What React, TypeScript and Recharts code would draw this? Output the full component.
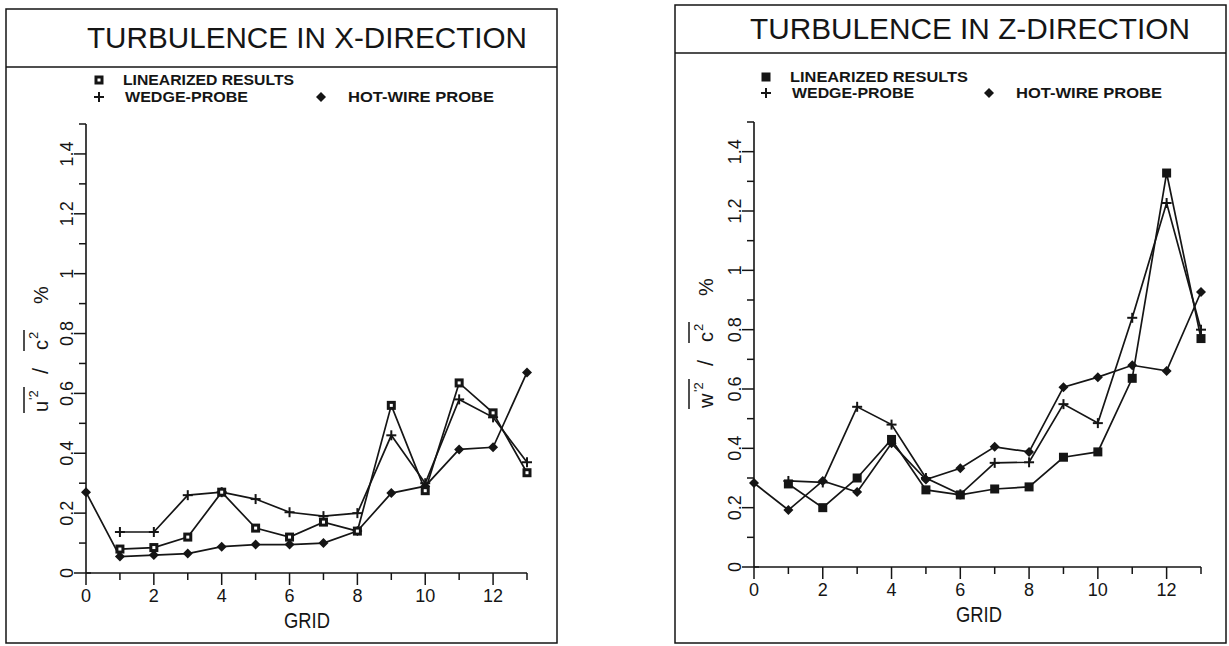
import { LineChart, Line, XAxis, YAxis } from 'recharts';

const grid = [0, 1, 2, 3, 4, 5, 6, 7, 8, 9, 10, 11, 12, 13];
const xTickLabels = ['0', '', '2', '', '4', '', '6', '', '8', '', '10', '', '12', ''];
const yTicks = [0, 0.1, 0.2, 0.3, 0.4, 0.5, 0.6, 0.7, 0.8, 0.9, 1, 1.1, 1.2, 1.3, 1.4, 1.5];
const yTickLabels = ['0', '0.2', '0.4', '0.6', '0.8', '1', '1.2', '1.4'];

// turbulence in x-direction
const xLinearized = [null, 0.08, 0.085, 0.12, 0.27, 0.15, 0.12, 0.17, 0.14, 0.56, 0.275, 0.635, 0.535, 0.335];
const xWedge = [null, 0.137, 0.137, 0.26, 0.27, 0.247, 0.203, 0.19, 0.2, 0.46, 0.3, 0.58, 0.52, 0.37];
const xHotWire = [0.27, 0.055, 0.06, 0.065, 0.088, 0.095, 0.095, 0.1, 0.14, 0.267, 0.29, 0.413, 0.42, 0.67];

// turbulence in z-direction
const zLinearized = [null, 0.28, 0.2, 0.3, 0.43, 0.26, 0.243, 0.263, 0.27, 0.37, 0.388, 0.636, 1.328, 0.77];
const zWedge = [null, 0.29, 0.285, 0.54, 0.48, 0.3, 0.245, 0.351, 0.353, 0.549, 0.485, 0.84, 1.227, 0.8];
const zHotWire = [0.283, 0.192, 0.29, 0.253, 0.417, 0.295, 0.333, 0.405, 0.388, 0.606, 0.64, 0.68, 0.661, 0.927];

const INK = '#151515';
const FONT = '"Liberation Sans", Arial, sans-serif';
const AXIS_W = 40;
const AXIS_H = 40;

const build = (lin: (number | null)[], wedge: (number | null)[], hot: (number | null)[]) =>
  grid.map((g, i) => ({ grid: g, lin: lin[i], wedge: wedge[i], hot: hot[i] }));

function Square({ cx, cy, hollow }: { cx: number; cy: number; hollow?: boolean }) {
  return (
    <g>
      <rect x={cx - 4.5} y={cy - 4.5} width={9} height={9} fill={INK} />
      {hollow && <rect x={cx - 1.5} y={cy - 1.5} width={3} height={3} fill="#fff" />}
    </g>
  );
}

function Plus({ cx, cy }: { cx: number; cy: number }) {
  return (
    <g stroke={INK} strokeWidth={2}>
      <line x1={cx - 5} x2={cx + 5} y1={cy} y2={cy} />
      <line x1={cx} x2={cx} y1={cy - 5} y2={cy + 5} />
    </g>
  );
}

function Diamond({ cx, cy }: { cx: number; cy: number }) {
  return <polygon points={`${cx},${cy - 5} ${cx + 5},${cy} ${cx},${cy + 5} ${cx - 5},${cy}`} fill={INK} />;
}

const dotFn = (kind: 'sq' | 'sqh' | 'plus' | 'dia') => (p: any) => {
  const key = `${kind}-${p.index}`;
  if (p.value == null || p.cx == null || p.cy == null) return <g key={key} />;
  if (kind === 'plus') return <Plus key={key} cx={p.cx} cy={p.cy} />;
  if (kind === 'dia') return <Diamond key={key} cx={p.cx} cy={p.cy} />;
  return <Square key={key} cx={p.cx} cy={p.cy} hollow={kind === 'sqh'} />;
};

const yTick = (axisX: number) => (p: any) => {
  const v = p.payload.value as number;
  const y = p.payload.coordinate ?? p.y;
  const tenth = Math.round(v * 10);
  const major = tenth % 2 === 0;
  return (
    <g key={`yt-${tenth}`}>
      <line x1={axisX - (major ? 12 : 7)} x2={axisX + (tenth === 0 ? 5 : 0)} y1={y} y2={y} stroke={INK} strokeWidth={1.5} />
      {major && tenth <= 14 && (
        <text
          transform={`translate(${axisX - 13},${y}) rotate(-90)`}
          textAnchor="middle"
          fontSize={18}
          fontFamily={FONT}
          fill={INK}
        >
          {yTickLabels[tenth / 2]}
        </text>
      )}
    </g>
  );
};

const xTick = (axisY: number) => (p: any) => {
  const v = p.payload.value as number;
  const x = p.payload.coordinate ?? p.x;
  const label = xTickLabels[v];
  return (
    <g key={`xt-${v}`}>
      <line x1={x} x2={x} y1={axisY} y2={axisY + (label ? 12 : 7)} stroke={INK} strokeWidth={1.5} />
      {label && (
        <text x={x} y={axisY + 29} textAnchor="middle" fontSize={18} fontFamily={FONT} fill={INK}>
          {label}
        </text>
      )}
    </g>
  );
};

interface PanelProps {
  left: number;
  width: number;
  axisX: number; // inside the panel
  axisY: number;
  top: number;
  right: number;
  data: ReturnType<typeof build>;
  hollow?: boolean;
}

function Panel({ left, width, axisX, axisY, top, right, data, hollow }: PanelProps) {
  const axisStyle = { stroke: INK, strokeWidth: 1.6 };
  const margin = { top, right, left: axisX - AXIS_W, bottom: 646 - axisY - AXIS_H };
  return (
    <div style={{ position: 'absolute', left, top: 0, width, height: 646 }}>
      <LineChart width={width} height={646} data={data} margin={margin}>
        <XAxis
          type="number"
          dataKey="grid"
          domain={[0, 13]}
          ticks={grid}
          interval={0}
          height={AXIS_H}
          tickLine={false}
          axisLine={axisStyle}
          tick={xTick(axisY)}
        />
        <YAxis
          type="number"
          domain={[0, 1.5]}
          ticks={yTicks}
          interval={0}
          width={AXIS_W}
          tickLine={false}
          axisLine={axisStyle}
          tick={yTick(axisX)}
        />
        <Line dataKey="hot" stroke={INK} strokeWidth={1.7} dot={dotFn('dia')} isAnimationActive={false} />
        <Line dataKey="wedge" stroke={INK} strokeWidth={1.7} dot={dotFn('plus')} isAnimationActive={false} />
        <Line dataKey="lin" stroke={INK} strokeWidth={1.7} dot={dotFn(hollow ? 'sqh' : 'sq')} isAnimationActive={false} />
      </LineChart>
    </div>
  );
}

function YLabel({ x, y, letter }: { x: number; y: number; letter: string }) {
  const wide = letter === 'w';
  const l0 = wide ? -66 : -62;
  const sup = wide ? l0 + 16 : l0 + 12;
  return (
    <g transform={`translate(${x},${y}) rotate(-90)`} fill={INK} fontFamily={FONT}>
      <text x={l0} y={0} fontSize={20}>{letter}</text>
      <text x={sup} y={-10} fontSize={13}>'2</text>
      <line x1={l0 - 1} x2={sup + 13} y1={-24} y2={-24} stroke={INK} strokeWidth={1.5} />
      <text x={-24} y={0} fontSize={22}>/</text>
      <text x={0} y={0} fontSize={20}>c</text>
      <text x={11} y={-10} fontSize={13}>2</text>
      <line x1={-1} x2={20} y1={-24} y2={-24} stroke={INK} strokeWidth={1.5} />
      <text x={46} y={0} fontSize={20}>%</text>
    </g>
  );
}

function Legend({ x, y1, y2, diaX, lens, hollow }: { x: number; y1: number; y2: number; diaX: number; lens: number[]; hollow?: boolean }) {
  const common = { fontSize: 15, fontWeight: 700, fontFamily: FONT, fill: INK, lengthAdjust: 'spacingAndGlyphs' as const };
  return (
    <g>
      <Square cx={x} cy={y1 - 5} hollow={hollow} />
      <text x={x + 24} y={y1} textLength={lens[0]} {...common}>LINEARIZED RESULTS</text>
      <Plus cx={x} cy={y2 - 5} />
      <text x={x + 26} y={y2} textLength={lens[1]} {...common}>WEDGE-PROBE</text>
      <Diamond cx={diaX} cy={y2 - 5} />
      <text x={diaX + 27} y={y2} textLength={lens[2]} {...common}>HOT-WIRE PROBE</text>
    </g>
  );
}

export default function App() {
  const titleStyle = {
    fontSize: 30,
    fontFamily: FONT,
    fontWeight: 400,
    fill: INK,
    lengthAdjust: 'spacingAndGlyphs' as const,
  };
  return (
    <div style={{ position: 'absolute', left: 0, top: 0, width: 1229, height: 646, background: '#fff', overflow: 'hidden' }}>
      <svg width={1229} height={646} style={{ position: 'absolute', left: 0, top: 0 }}>
        {/* left frame */}
        <rect x={6} y={9} width={551} height={634} fill="none" stroke={INK} strokeWidth={1.5} />
        <line x1={6} x2={557} y1={67} y2={67} stroke={INK} strokeWidth={1.5} />
        <text x={87} y={48} textLength={440} {...titleStyle}>TURBULENCE IN X-DIRECTION</text>
        <Legend x={99} y1={85} y2={102} diaX={321} lens={[171, 123, 146]} hollow />
        <YLabel x={48} y={350} letter="u" />
        <text x={307} y={628} textAnchor="middle" fontSize={22} fontFamily={FONT} fill={INK} textLength={46} lengthAdjust="spacingAndGlyphs">GRID</text>

        {/* right frame */}
        <rect x={675} y={5} width={551} height={638} fill="none" stroke={INK} strokeWidth={1.5} />
        <line x1={675} x2={1226} y1={53} y2={53} stroke={INK} strokeWidth={1.5} />
        <text x={750} y={39} textLength={440} {...titleStyle}>TURBULENCE IN Z-DIRECTION</text>
        <Legend x={766} y1={82} y2={98} diaX={989} lens={[178, 122, 146]} />
        <YLabel x={713} y={342} letter="w" />
        <text x={979} y={622} textAnchor="middle" fontSize={22} fontFamily={FONT} fill={INK} textLength={46} lengthAdjust="spacingAndGlyphs">GRID</text>
      </svg>

      <Panel left={0} width={600} axisX={86} axisY={573} top={124} right={73} data={build(xLinearized, xWedge, xHotWire)} hollow />
      <Panel left={620} width={609} axisX={134} axisY={567} top={122} right={28} data={build(zLinearized, zWedge, zHotWire)} />
    </div>
  );
}
